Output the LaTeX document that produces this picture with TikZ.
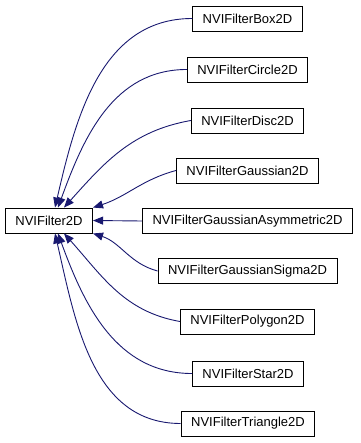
\documentclass[tikz,border=0pt]{standalone}
\usepackage{fontspec}
\setmainfont{Liberation Sans}
\usetikzlibrary{arrows.meta}
\definecolor{edgeblue}{RGB}{25,25,112}
\begin{document}
\begin{tikzpicture}[x=1pt,y=-1pt,
  classbox/.style={draw=black, line width=0.9pt, fill=white, minimum height=25pt,
    inner xsep=10pt, inner ysep=0pt, font=\fontsize{13}{15}\selectfont},
  inherit/.style={draw=edgeblue, line width=0.9pt, -{Triangle[length=10pt,width=8pt]}}]
\useasboundingbox (0,0) rectangle (360,443);
\node[classbox] (base) at (49,220.5) {NVIFilter2D};
\node[classbox] (box) at (247.5,18.5) {NVIFilterBox2D};
\node[classbox] (circle) at (247.5,69.5) {NVIFilterCircle2D};
\node[classbox] (disc) at (247.5,120.5) {NVIFilterDisc2D};
\node[classbox] (gauss) at (247.5,170.5) {NVIFilterGaussian2D};
\node[classbox] (asym) at (247.5,221) {NVIFilterGaussianAsymmetric2D};
\node[classbox] (sigma) at (247.5,271) {NVIFilterGaussianSigma2D};
\node[classbox] (polygon) at (247.5,321.5) {NVIFilterPolygon2D};
\node[classbox] (star) at (248,373.5) {NVIFilterStar2D};
\node[classbox] (triangle) at (248,423.5) {NVIFilterTriangle2D};
% edges to the base class
\draw[inherit] (box.west) to[out=180,in=77] ([xshift=6]base.north);
\draw[inherit] (circle.west) to[out=180,in=70] ([xshift=9]base.north);
\draw[inherit] (disc.west) to[out=190,in=48] ([xshift=15]base.north);
\draw[inherit] (gauss.west) to[out=195,in=18] (base.north east);
\draw[inherit] (asym.west) -- (base.east);
\draw[inherit] (sigma.west) to[out=165,in=-18] (base.south east);
\draw[inherit] (polygon.west) to[out=170,in=-48] ([xshift=15]base.south);
\draw[inherit] (star.west) to[out=180,in=-70] ([xshift=9]base.south);
\draw[inherit] (triangle.west) to[out=180,in=-77] ([xshift=6]base.south);
\end{tikzpicture}
\end{document}
